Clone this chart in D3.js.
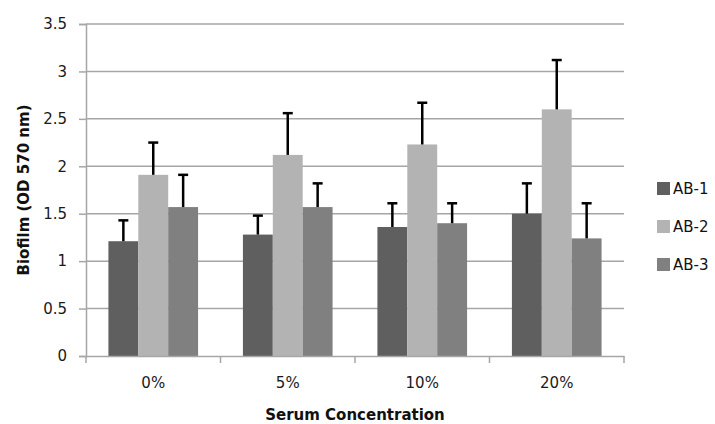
<!DOCTYPE html>
<html><head><meta charset="utf-8">
<script src="https://cdn.jsdelivr.net/npm/d3@7/dist/d3.min.js"></script>
<style>body{margin:0;background:#fff;} svg{display:block;font-family:"DejaVu Sans", sans-serif;}</style>
</head><body>
<svg id="c" width="715" height="424"></svg>
<script>
const categories = ["0%", "5%", "10%", "20%"];
const seriesNames = ["AB-1", "AB-2", "AB-3"];
const ab1 = [1.21, 1.28, 1.36, 1.50];
const ab2 = [1.91, 2.12, 2.23, 2.60];
const ab3 = [1.57, 1.57, 1.40, 1.24];
const ab1Err = [0.22, 0.20, 0.25, 0.32];
const ab2Err = [0.34, 0.44, 0.44, 0.52];
const ab3Err = [0.34, 0.25, 0.21, 0.37];
const yTicks = [0, 0.5, 1, 1.5, 2, 2.5, 3, 3.5];
const colors = ["#5f5f5f", "#b3b3b3", "#808080"];

const values = [ab1, ab2, ab3];
const errs = [ab1Err, ab2Err, ab3Err];
const data = [];
categories.forEach((c, i) => seriesNames.forEach((s, j) => data.push({cat: c, s, v: values[j][i], e: errs[j][i], j})));

const svg = d3.select("#c");
const m = {l: 86, r: 624, t: 24, b: 356};
const x = d3.scaleBand().domain(categories).range([m.l, m.r]).paddingInner(0).paddingOuter(0);
const y = d3.scaleLinear().domain([0, 3.5]).range([m.b, m.t]);
const gridColor = "#a6a6a6";

// gridlines
svg.append("g").selectAll("line").data(yTicks.slice(1)).join("line")
  .attr("x1", m.l).attr("x2", m.r).attr("y1", d => y(d)).attr("y2", d => y(d))
  .attr("stroke", gridColor).attr("stroke-width", 1.5);

// y axis
const ya = svg.append("g").attr("transform", `translate(${m.l},0)`)
  .call(d3.axisLeft(y).tickValues(yTicks).tickFormat(d => d).tickSize(7).tickPadding(12));
ya.select(".domain").attr("stroke", gridColor).attr("stroke-width", 1.5);
ya.selectAll(".tick line").attr("stroke", gridColor).attr("stroke-width", 1.5);
ya.selectAll("text").attr("font-size", 15).attr("fill", "#1a1a1a").attr("font-family", "DejaVu Sans, sans-serif");

// bars
const bw = x.bandwidth() / 4.5;
const off = x.bandwidth() * 0.75 / 4.5;
const xs = d3.scaleBand().domain(seriesNames).range([off, off + 3 * bw]);
svg.append("g").selectAll("rect").data(data).join("rect")
  .attr("x", d => x(d.cat) + xs(d.s)).attr("width", xs.bandwidth())
  .attr("y", d => y(d.v)).attr("height", d => y(0) - y(d.v))
  .attr("fill", d => colors[d.j]);

// error bars
const cx = d => x(d.cat) + xs(d.s) + xs.bandwidth() / 2;
const eb = svg.append("g").attr("stroke", "#000").attr("stroke-width", 2.5);
eb.selectAll("line.v").data(data).join("line").attr("class", "v")
  .attr("x1", cx).attr("x2", cx)
  .attr("y1", d => y(d.v)).attr("y2", d => y(d.v + d.e));
eb.selectAll("line.c").data(data).join("line").attr("class", "c")
  .attr("x1", d => cx(d) - 5).attr("x2", d => cx(d) + 5)
  .attr("y1", d => y(d.v + d.e)).attr("y2", d => y(d.v + d.e));

// x axis
const xa = svg.append("g").attr("transform", `translate(0,${m.b})`)
  .call(d3.axisBottom(x).tickSize(0).tickPadding(21));
xa.select(".domain").attr("stroke", gridColor).attr("stroke-width", 1.5);
xa.selectAll("text").attr("font-size", 15).attr("fill", "#1a1a1a").attr("font-family", "DejaVu Sans, sans-serif");
svg.append("g").selectAll("line").data(d3.range(categories.length + 1)).join("line")
  .attr("x1", i => m.l + i * x.bandwidth()).attr("x2", i => m.l + i * x.bandwidth())
  .attr("y1", m.b).attr("y2", m.b + 7).attr("stroke", gridColor).attr("stroke-width", 1.5);

// axis titles
svg.append("text").attr("x", 355).attr("y", 420).attr("text-anchor", "middle")
  .attr("font-weight", "bold").attr("font-size", 15).attr("fill", "#111").text("Serum Concentration");
svg.append("text").attr("transform", `translate(29,190) rotate(-90)`).attr("text-anchor", "middle")
  .attr("font-weight", "bold").attr("font-size", 15).attr("fill", "#111").text("Biofilm (OD 570 nm)");

// legend
const lg = svg.append("g").selectAll("g").data(seriesNames).join("g")
  .attr("transform", (d, i) => `translate(657,${182 + i * 38})`);
lg.append("rect").attr("width", 13).attr("height", 13).attr("fill", (d, i) => colors[i]);
lg.append("text").attr("x", 16).attr("y", 12).attr("font-size", 15).attr("fill", "#111").text(d => d);
</script>
</body></html>
